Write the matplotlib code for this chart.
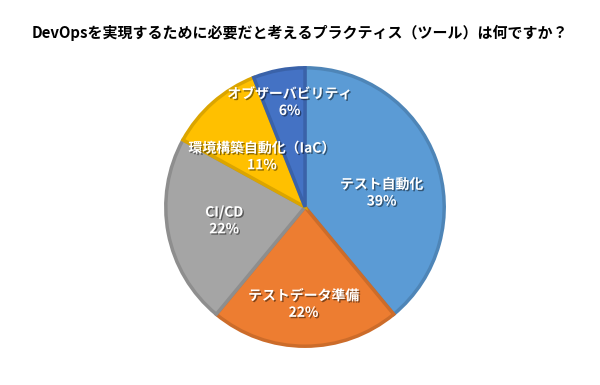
import matplotlib
matplotlib.use("Agg")
import matplotlib.pyplot as plt
import matplotlib.patheffects as pe
from matplotlib.colors import to_rgb

plt.rcParams['font.family'] = ['Noto Sans CJK JP', 'DejaVu Sans']

title = "DevOpsを実現するために必要だと考えるプラクティス（ツール）は何ですか？"
categories = ["テスト自動化", "テストデータ準備", "CI/CD", "環境構築自動化（IaC）", "オブザーバビリティ"]
values = [39, 22, 22, 11, 6]
colors = ["#5B9BD5", "#ED7D31", "#A5A5A5", "#FFC000", "#4472C4"]

# label centres (data units, pie radius = 1)
label_xy = [(0.55, 0.10), (-0.01, -0.70), (-0.58, -0.10), (-0.31, 0.36), (-0.11, 0.75)]

W, H = 600, 385
fig = plt.figure(figsize=(W / 100, H / 100), dpi=100)
fig.patch.set_facecolor("white")

cx, cy, r = 305, 207, 142
ax = fig.add_axes([(cx - r) / W, (H - cy - r) / H, 2 * r / W, 2 * r / H])
ax.axis("off")

def darker(c, f=0.86):
    rgb = to_rgb(c)
    return tuple(v * f for v in rgb)

wedges, _ = ax.pie(values, colors=colors, startangle=90, counterclock=False,
                   radius=1.0, center=(0, 0), frame=False)
for w, c in zip(wedges, colors):
    w.set_edgecolor(darker(c))
    w.set_linewidth(2.5)
    w.set_joinstyle("miter")
ax.set_xlim(-1.02, 1.02)
ax.set_ylim(-1.02, 1.02)

shadow = [pe.withSimplePatchShadow(offset=(1, -1), shadow_rgbFace="black", alpha=0.45)]
for cat, v, (x, y) in zip(categories, values, label_xy):
    ax.text(x, y, f"{cat}\n{v}%", ha="center", va="center", color="white",
            fontsize=10, fontweight="bold", linespacing=1.25, path_effects=shadow)

fig.text(0.5, 1 - 33 / H, title, ha="center", va="center", fontsize=10.8,
         fontweight="bold", color="black")

fig.savefig("out.png", dpi=100, facecolor="white")
